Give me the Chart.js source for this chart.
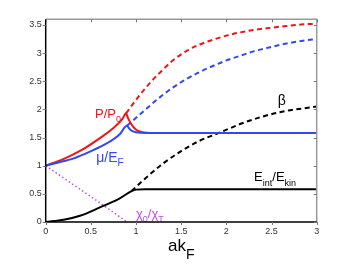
<!DOCTYPE html>
<html><head><meta charset="utf-8">
<script src="https://cdn.jsdelivr.net/npm/chart.js@4"></script>
<style>html,body{margin:0;padding:0;background:#fff;}canvas{display:block}</style>
</head><body>
<canvas id="c" width="350" height="264"></canvas>
<script>
// ---- data ----
const xTicks = [0, 0.5, 1, 1.5, 2, 2.5, 3];
const yTicks = [0, 0.5, 1, 1.5, 2, 2.5, 3, 3.5];

// P/P0 solid
const pSolidX = [0, 0.2, 0.4, 0.6, 0.75, 0.85, 0.89, 0.91, 0.94, 0.97, 1.01, 1.06, 1.12, 1.2, 3.0];
const pSolidY = [1.0, 1.12, 1.28, 1.49, 1.67, 1.83, 1.93, 1.85, 1.76, 1.69, 1.63, 1.60, 1.585, 1.58, 1.58];
// P/P0 dashed
const pDashX = [0.89, 1.0, 1.1, 1.2, 1.3, 1.4, 1.56, 1.7, 1.82, 2.0, 2.13, 2.3, 2.5, 2.66, 2.85, 3.0];
const pDashY = [1.93, 2.17, 2.37, 2.55, 2.71, 2.86, 3.04, 3.15, 3.22, 3.31, 3.36, 3.41, 3.45, 3.48, 3.51, 3.52];
// mu/EF solid
const muSolidX = [0, 0.15, 0.31, 0.49, 0.68, 0.82, 0.90, 0.92, 0.95, 1.0, 1.06, 1.15, 3.0];
const muSolidY = [1.0, 1.06, 1.13, 1.25, 1.40, 1.56, 1.71, 1.67, 1.62, 1.595, 1.585, 1.58, 1.58];
// mu/EF dashed
const muDashX = [0.90, 1.0, 1.1, 1.2, 1.3, 1.4, 1.55, 1.7, 1.85, 2.0, 2.15, 2.3, 2.5, 2.7, 2.85, 3.0];
const muDashY = [1.71, 1.85, 1.99, 2.13, 2.26, 2.38, 2.53, 2.66, 2.77, 2.87, 2.95, 3.03, 3.11, 3.18, 3.22, 3.25];
// Eint/Ekin solid
const eSolidX = [0, 0.2, 0.38, 0.6, 0.82, 0.95, 1.0, 1.1, 3.0];
const eSolidY = [0, 0.04, 0.11, 0.26, 0.42, 0.55, 0.575, 0.58, 0.58];
// beta dashed
const betaX = [0.95, 1.1, 1.3, 1.5, 1.7, 1.93, 2.22, 2.59, 3.0];
const betaY = [0.55, 0.77, 1.04, 1.26, 1.44, 1.59, 1.78, 1.95, 2.05];
// chi0/chiT dotted
const chiX = [0, 0.3, 0.6, 0.9];
const chiY = [1.0, 0.67, 0.34, 0.0];

// ---- styles ----
const RED = '#f01414';
const BLUE = '#3248f0';
const BLACK = '#000000';
const PURPLE = '#c24af0';
const FONT = '"Liberation Sans", Arial, Helvetica, sans-serif';

const zip = (xs, ys) => xs.map((x, i) => ({x: x, y: ys[i]}));
function ds(xs, ys, color, dash, width) {
  return {
    data: zip(xs, ys), borderColor: color, borderWidth: width || 2,
    borderDash: dash || [], pointRadius: 0, showLine: true, fill: false,
    cubicInterpolationMode: 'monotone'
  };
}

// in-plot labels (data coordinates): parts = [text, isSubscript]
const notes = [
  {parts: [['P/P', 0], ['0', 1]], x: 0.546, y: 1.85, color: RED, size: 13},
  {parts: [['\u03bc/E', 0], ['F', 1]], x: 0.56, y: 1.07, color: BLUE, size: 14},
  {parts: [['\u03b2', 0]], x: 2.57, y: 2.08, color: BLACK, size: 14},
  {parts: [['E', 0], ['int', 1], ['/E', 0], ['kin', 1]], x: 2.307, y: 0.72, color: BLACK, size: 13},
  {parts: [['\u03c7', 0], ['0', 1], ['/\u03c7', 0], ['T', 1]], x: 1.0, y: 0.07, color: PURPLE, size: 13}
];

function drawParts(ctx, parts, x, y, size) {
  const sub = Math.round(size * 0.72);
  let cx = x;
  parts.forEach(p => {
    ctx.font = (p[1] ? sub : size) + 'px ' + FONT;
    ctx.fillText(p[0], cx, p[1] ? y + size * 0.32 : y);
    cx += ctx.measureText(p[0]).width;
  });
}

const framePlugin = {
  id: 'frame',
  afterDraw(chart) {
    const {ctx, chartArea: a, scales} = chart;
    const xs = scales.x, ys = scales.y;
    ctx.save();
    ctx.textBaseline = 'alphabetic';
    ctx.textAlign = 'left';
    notes.forEach(n => {
      ctx.fillStyle = n.color;
      drawParts(ctx, n.parts, xs.getPixelForValue(n.x), ys.getPixelForValue(n.y), n.size);
    });
    // axis title ak_F
    ctx.fillStyle = '#000';
    const size = 17, sub = 14;
    ctx.font = size + 'px ' + FONT; const w1 = ctx.measureText('ak').width;
    ctx.font = sub + 'px ' + FONT; const w2 = ctx.measureText('F').width;
    const cx = (a.left + a.right) / 2 - (w1 + w2) / 2;
    const by = a.bottom + 28.7;
    ctx.font = size + 'px ' + FONT; ctx.fillText('ak', cx, by);
    ctx.font = sub + 'px ' + FONT; ctx.fillText('F', cx + w1, by + 8.5);
    // frame
    ctx.lineWidth = 1.5;
    ctx.strokeStyle = '#9a9a9a';
    ctx.beginPath();
    ctx.moveTo(a.left, a.top); ctx.lineTo(a.right, a.top); ctx.lineTo(a.right, a.bottom);
    ctx.stroke();
    ctx.strokeStyle = '#000';
    ctx.beginPath();
    ctx.moveTo(a.left, a.top); ctx.lineTo(a.left, a.bottom); ctx.lineTo(a.right, a.bottom);
    ctx.stroke();
    // ticks
    ctx.lineWidth = 1;
    ctx.strokeStyle = '#777';
    ctx.beginPath();
    yTicks.forEach(v => {
      const py = Math.round(ys.getPixelForValue(v)) + 0.5;
      ctx.moveTo(a.left - 3, py); ctx.lineTo(a.left, py);
      ctx.moveTo(a.right - 3, py); ctx.lineTo(a.right, py);
    });
    xTicks.forEach(v => {
      const px = Math.round(xs.getPixelForValue(v)) + 0.5;
      ctx.moveTo(px, a.top); ctx.lineTo(px, a.top + 3);
      ctx.moveTo(px, a.bottom); ctx.lineTo(px, a.bottom + 3);
    });
    ctx.stroke();
    ctx.restore();
  }
};

// Chart.js paints dataset 0 on top, so the list runs from top layer to bottom layer
new Chart(document.getElementById('c'), {
  type: 'scatter',
  data: {
    datasets: [
      ds(muSolidX, muSolidY, BLUE),
      ds(pSolidX, pSolidY, RED),
      ds(muDashX, muDashY, BLUE, [5, 3.5]),
      ds(pDashX, pDashY, RED, [5, 3.5]),
      ds(betaX, betaY, BLACK, [5, 3.5]),
      ds(eSolidX, eSolidY, BLACK),
      ds(chiX, chiY, PURPLE, [1.5, 2.5], 1.5)
    ]
  },
  options: {
    responsive: false, devicePixelRatio: 1, animation: false,
    layout: {padding: {left: 0, right: 33.3, top: 19.3, bottom: 0}},
    plugins: {legend: {display: false}, tooltip: {enabled: false}},
    scales: {
      x: {
        type: 'linear', min: 0, max: 3,
        grid: {display: false, drawTicks: false}, border: {display: false},
        afterBuildTicks: s => { s.ticks = xTicks.map(v => ({value: v})); },
        afterFit: s => { s.height = 42; },
        ticks: {padding: 4, color: '#333', font: {family: FONT, size: 9}, maxRotation: 0,
                callback: v => String(v)}
      },
      y: {
        type: 'linear', min: 0, max: 3.6,
        grid: {display: false, drawTicks: false}, border: {display: false},
        afterBuildTicks: s => { s.ticks = yTicks.map(v => ({value: v})); },
        afterFit: s => { s.width = 45.7; },
        ticks: {padding: 4, color: '#333', font: {family: FONT, size: 9},
                callback: v => String(v)}
      }
    }
  },
  plugins: [framePlugin]
});
</script>
</body></html>
